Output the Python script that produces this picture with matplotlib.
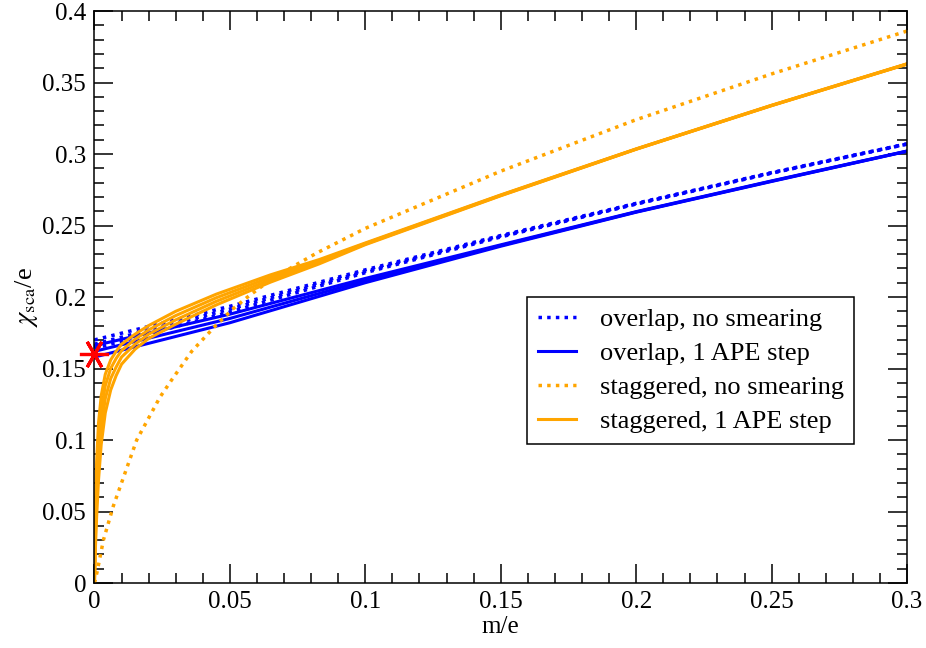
import matplotlib
matplotlib.use("Agg")
import matplotlib.pyplot as plt
from matplotlib.ticker import MultipleLocator, FuncFormatter

plt.rcParams['font.family'] = ['Liberation Serif', 'DejaVu Serif']
plt.rcParams['mathtext.fontset'] = 'stix'

# overlap, no smearing (three volumes)
x_ov = [0, 0.05, 0.1, 0.15, 0.2, 0.25, 0.3]
ov_dot = [
    [0.170, 0.1935, 0.219, 0.243, 0.2655, 0.287, 0.3071],
    [0.167, 0.1915, 0.218, 0.2425, 0.2652, 0.2868, 0.307],
    [0.164, 0.1895, 0.217, 0.242, 0.265, 0.2866, 0.3069],
]
# overlap, 1 APE step
ov_ape = [
    [0.166, 0.188, 0.213, 0.2365, 0.2597, 0.2812, 0.3021],
    [0.162, 0.185, 0.2115, 0.236, 0.2595, 0.281, 0.302],
    [0.158, 0.182, 0.210, 0.2355, 0.2593, 0.2808, 0.3019],
]

# staggered, no smearing
x_st_dot = [0, 0.001, 0.0033, 0.007, 0.0156, 0.0242, 0.0285, 0.0359, 0.0445,
            0.0513, 0.0568, 0.0636, 0.0734, 0.082, 0.1, 0.15, 0.2, 0.25, 0.3]
st_dot = [0, 0.008, 0.03, 0.054, 0.1, 0.13, 0.142, 0.162, 0.1795,
          0.192, 0.2004, 0.21, 0.2214, 0.2307, 0.248, 0.288, 0.324, 0.356, 0.386]

# staggered, 1 APE step (four volumes)
x_st = [0, 0.0003, 0.0008, 0.0015, 0.0025, 0.004, 0.006, 0.008, 0.01, 0.015,
        0.02, 0.03, 0.045, 0.065, 0.083, 0.1, 0.15, 0.2, 0.25, 0.3]
st_ape = [
    [0, 0.05, 0.085, 0.112, 0.131, 0.146, 0.156, 0.162, 0.167, 0.174,
     0.180, 0.190, 0.202, 0.2155, 0.2262, 0.2378, 0.2714, 0.3036, 0.3341, 0.3631],
    [0, 0.04, 0.07, 0.098, 0.120, 0.138, 0.150, 0.157, 0.1625, 0.1705,
     0.177, 0.187, 0.1995, 0.2138, 0.2252, 0.2374, 0.2712, 0.3035, 0.334, 0.363],
    [0, 0.03, 0.058, 0.085, 0.109, 0.129, 0.143, 0.151, 0.158, 0.167,
     0.174, 0.184, 0.197, 0.2121, 0.2242, 0.237, 0.271, 0.3034, 0.3339, 0.3629],
    [0, 0.022, 0.046, 0.072, 0.097, 0.119, 0.135, 0.145, 0.153, 0.1635,
     0.171, 0.181, 0.1945, 0.2104, 0.2232, 0.2366, 0.2708, 0.3033, 0.3338, 0.3628],
]

# chiral limit value
star_x = [0.0]
star_y = [0.16]

blue = '#0000ff'
orange = '#ffa500'
dots = (0, (1, 1.5))
lw = 2.2
lw_dot = 2.5

fig = plt.figure(figsize=(9.26, 6.48), dpi=100)
ax = fig.add_axes([0.102, 0.1003, 0.8775, 0.8827])

for i, y in enumerate(ov_dot):
    ax.plot(x_ov, y, color=blue, lw=lw_dot, linestyle=dots,
            label='overlap, no smearing' if i == 0 else None)
for i, y in enumerate(ov_ape):
    ax.plot(x_ov, y, color=blue, lw=lw,
            label='overlap, 1 APE step' if i == 0 else None)
ax.plot(x_st_dot, st_dot, color=orange, lw=lw_dot, linestyle=dots,
        label='staggered, no smearing')
for i, y in enumerate(st_ape):
    ax.plot(x_st, y, color=orange, lw=lw,
            label='staggered, 1 APE step' if i == 0 else None)

ax.plot(star_x, star_y, linestyle='none', marker=(6, 2, 30), color='red',
        markersize=21, markeredgewidth=2.3, clip_on=False, zorder=5)

ax.set_xlim(0, 0.3)
ax.set_ylim(0, 0.4)
ax.xaxis.set_major_locator(MultipleLocator(0.05))
ax.xaxis.set_minor_locator(MultipleLocator(0.01))
ax.yaxis.set_major_locator(MultipleLocator(0.05))
ax.yaxis.set_minor_locator(MultipleLocator(0.01))
fmt = FuncFormatter(lambda v, p: '%g' % round(v, 4))
ax.xaxis.set_major_formatter(fmt)
ax.yaxis.set_major_formatter(fmt)
ax.tick_params(which='both', direction='in', top=True, right=True,
               labelsize=18, width=1.1)
ax.tick_params(which='major', length=13.5, pad=6)
ax.tick_params(which='minor', length=7)
for s in ax.spines.values():
    s.set_linewidth(1.1)

ax.set_xlabel('m/e', fontsize=18, labelpad=2)
ax.set_ylabel(r'$\chi_{\mathrm{sca}}$/e', fontsize=19, labelpad=2)

leg = ax.legend(loc='upper right', bbox_to_anchor=(0.935, 0.50), fontsize=19,
                fancybox=False, edgecolor='black', framealpha=1,
                handlelength=1.45, handletextpad=0.9, borderpad=0.4,
                labelspacing=0.4, borderaxespad=0)
leg.get_frame().set_linewidth(1.1)

fig.savefig('out.png', dpi=100)
